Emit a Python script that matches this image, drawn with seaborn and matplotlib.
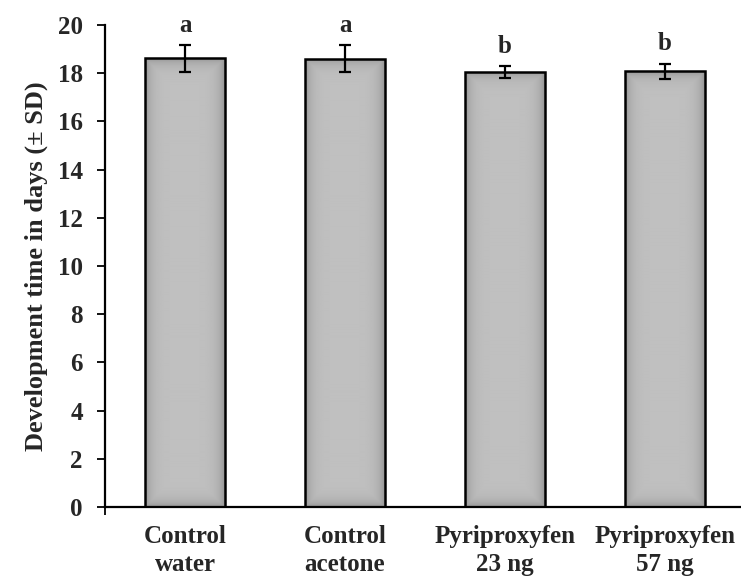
import numpy as np
import pandas as pd
import matplotlib
matplotlib.use("Agg")
import matplotlib.pyplot as plt
import seaborn as sns

# data
groups = ["Control\nwater", "Control\nacetone", "Pyriproxyfen\n23 ng", "Pyriproxyfen\n57 ng"]
mean_days = [18.62, 18.60, 18.06, 18.09]
sd_days = [0.55, 0.55, 0.24, 0.31]
letters = ["a", "a", "b", "b"]
y_ticks = list(range(0, 21, 2))

sns.set_theme(style="white")
plt.rcParams["font.family"] = ["Liberation Serif", "DejaVu Serif"]
plt.rcParams["font.weight"] = "bold"

df = pd.DataFrame({"group": groups, "mean": mean_days, "sd": sd_days})

fig = plt.figure(figsize=(7.41, 5.80), dpi=100)
ax = fig.add_axes([105 / 741, 73 / 580, 640 / 741, 482 / 580])

sns.barplot(data=df, x="group", y="mean", color="#c0c0c0", width=0.5,
            edgecolor="black", linewidth=1.8, errorbar=None, ax=ax, zorder=2)

ax.set_xlim(-0.5, 3.5)
ax.set_ylim(0, 20)

# shaded fill: lighter in the middle, darker towards the edges
nrow, ncol = 400, 80
for patch in ax.patches:
    x0, y0 = patch.get_x(), patch.get_y()
    w, h = patch.get_width(), patch.get_height()
    hpx = h * 24.1
    cols = np.arange(ncol) + 0.5
    rows = (np.arange(nrow) + 0.5) * hpx / nrow
    dx = np.minimum(cols, ncol - cols)
    dy = np.minimum(rows, hpx - rows)
    d = np.minimum(dx[None, :], dy[:, None])
    shade = (192 - 45 * np.exp(-d / 6.0)) / 255.0
    img = ax.imshow(shade, cmap="gray", vmin=0, vmax=1, aspect="auto",
                    extent=[x0, x0 + w, y0, y0 + h], origin="lower",
                    interpolation="bilinear", zorder=2.5)
    img.set_clip_path(patch)
    patch.set_facecolor("none")
    patch.set_zorder(3)

ax.errorbar(x=np.arange(len(groups)), y=mean_days, yerr=sd_days, fmt="none",
            ecolor="black", elinewidth=1.6, capsize=4.5, capthick=1.6, zorder=4)

for i, (m, s, lab) in enumerate(zip(mean_days, sd_days, letters)):
    ax.annotate(lab, xy=(i, m + s), xytext=(0, 6), textcoords="offset points",
                ha="center", va="bottom", fontsize=18, fontweight="bold")

ax.set_yticks(y_ticks)
ax.set_yticklabels([str(t) for t in y_ticks], fontsize=18, fontweight="bold")
ax.tick_params(axis="y", direction="out", length=6, width=1.3, color="black",
               left=True, pad=10)
ax.tick_params(axis="x", length=0, pad=13, labelsize=18)
for lbl in ax.get_xticklabels():
    lbl.set_fontweight("bold")
    lbl.set_linespacing(1.25)

# little cross of the axes at the origin
ax.set_xticks([-0.5], minor=True)
ax.tick_params(axis="x", which="minor", direction="out", length=6, width=1.3,
               color="black", bottom=True)

ax.set_xlabel("")
ax.set_ylabel("Development time in days (± SD)", fontsize=19, fontweight="bold",
              labelpad=7)

sns.despine(ax=ax, top=True, right=True)
for side in ["left", "bottom"]:
    ax.spines[side].set_color("black")
    ax.spines[side].set_linewidth(1.6)

fig.savefig("out.png", dpi=100)
